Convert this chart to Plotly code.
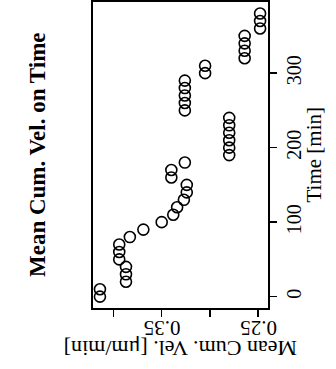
import plotly.graph_objects as go

time_min = [0, 10, 20, 30, 40, 50, 60, 70, 80, 90, 100, 110, 120, 130, 140, 150,
            160, 170, 180, 190, 200, 210, 220, 230, 240, 250, 260, 270, 280, 290,
            300, 310, 320, 330, 340, 350, 360, 370, 380]
mean_cum_vel = [0.414, 0.414, 0.387, 0.387, 0.387, 0.394, 0.394, 0.394, 0.383,
                0.369, 0.350, 0.338, 0.334, 0.327, 0.324, 0.324, 0.340, 0.340,
                0.326, 0.280, 0.280, 0.280, 0.280, 0.280, 0.280, 0.326, 0.326,
                0.326, 0.326, 0.326, 0.305, 0.305, 0.264, 0.264, 0.264, 0.264,
                0.248, 0.248, 0.248]
vel_ticks = [0.25, 0.30, 0.35, 0.40]
vel_tick_text = ["0.25", "", "0.35", ""]
time_ticks = [0, 100, 200, 300]

FONT = "Liberation Serif"

fig = go.Figure()
fig.add_trace(go.Scatter(
    x=mean_cum_vel, y=time_min, mode="markers",
    marker=dict(symbol="circle-open", size=11, color="black",
                line=dict(width=1.6, color="black")),
    showlegend=False, cliponaxis=False, hoverinfo="skip",
))

fig.update_layout(
    width=336, height=369,
    margin=dict(l=93, r=68, t=2, b=61, autoexpand=False),
    paper_bgcolor="white", plot_bgcolor="white",
    font=dict(family=FONT, color="black"),
    xaxis=dict(
        range=[0.4212, 0.2398], showgrid=False, zeroline=False, automargin=False,
        showline=True, mirror=True, linecolor="black", linewidth=2,
        ticks="outside", ticklen=7, tickwidth=1.5, tickcolor="black",
        tickvals=vel_ticks, ticktext=vel_tick_text, tickangle=180,
        ticklabelshift=18,
        tickfont=dict(family=FONT, size=21, color="black"),
    ),
    yaxis=dict(
        range=[-15.2, 395.5], side="right", showgrid=False, zeroline=False,
        automargin=False,
        showline=True, mirror=True, linecolor="black", linewidth=2,
        ticks="outside", ticklen=7, tickwidth=1.5, tickcolor="black",
        tickvals=time_ticks, tickangle=-90,
        tickfont=dict(family=FONT, size=20, color="black"),
    ),
    annotations=[
        dict(text="<b>Mean Cum. Vel. on Time</b>", textangle=-90,
             xref="paper", yref="paper", x=-0.32, y=0.5,
             xanchor="center", yanchor="middle", showarrow=False,
             font=dict(family=FONT, size=23, color="black")),
        dict(text="Time [min]", textangle=-90,
             xref="paper", yref="paper", x=1.26, y=0.5,
             xanchor="center", yanchor="middle", showarrow=False,
             font=dict(family=FONT, size=21, color="black")),
        dict(text="Mean Cum. Vel. [μm/min]", textangle=180,
             xref="paper", yref="paper", x=0.5, y=-0.13,
             xanchor="center", yanchor="middle", showarrow=False,
             font=dict(family=FONT, size=22, color="black")),
    ],
)

fig.write_html("out.html", config={"displayModeBar": False, "staticPlot": True},
               post_script="document.body.style.margin='0';document.body.style.padding='0';")
